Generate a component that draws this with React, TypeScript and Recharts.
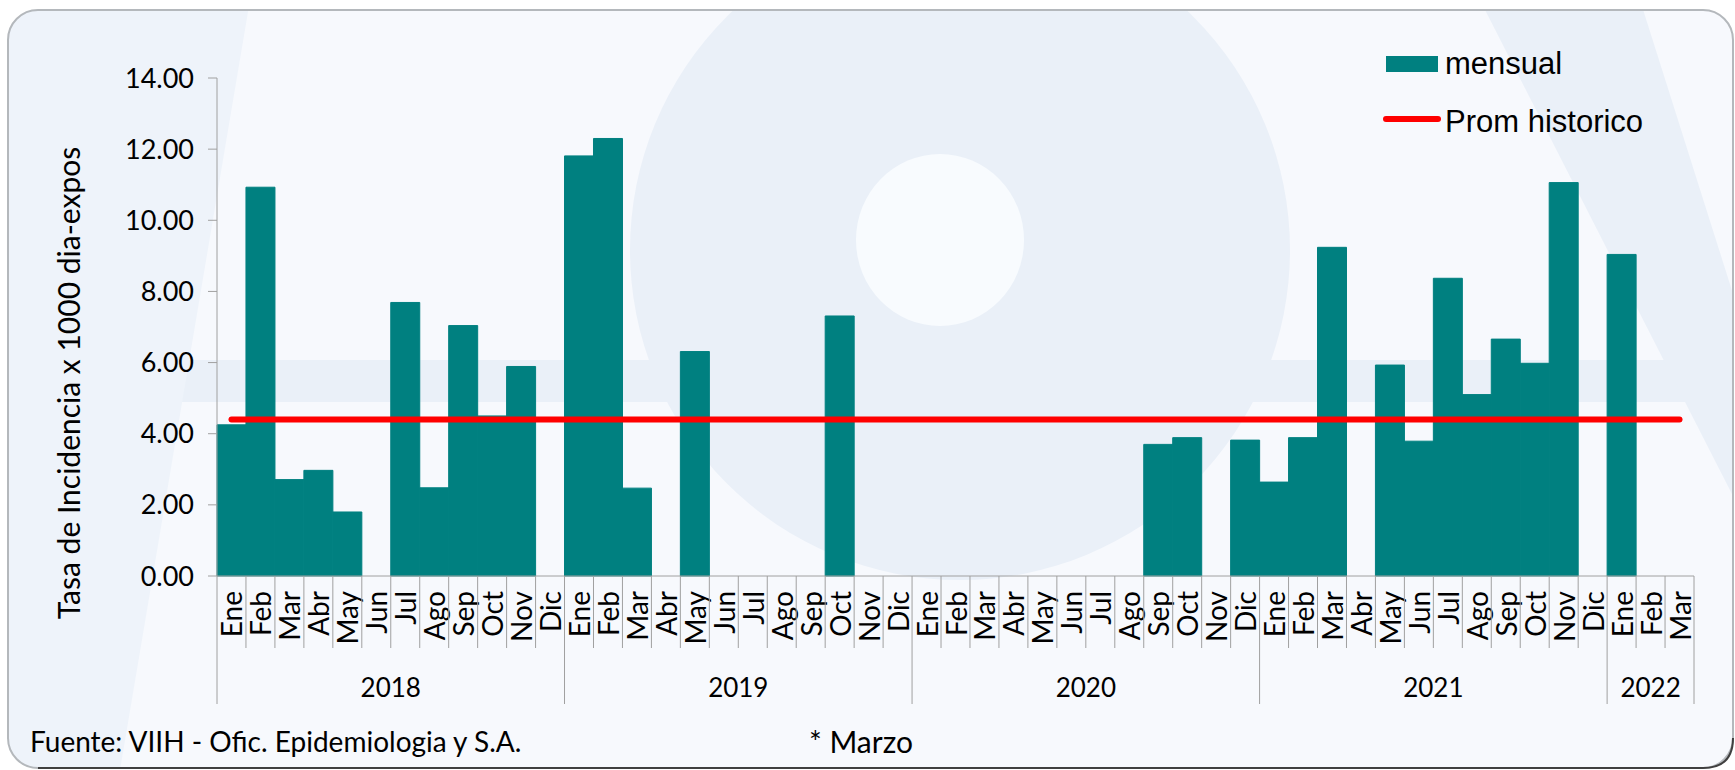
import React from 'react';
import { ComposedChart, Bar, Line, XAxis, YAxis, Legend } from 'recharts';

const monthNames = ['Ene', 'Feb', 'Mar', 'Abr', 'May', 'Jun', 'Jul', 'Ago', 'Sep', 'Oct', 'Nov', 'Dic'];
const years = ['2018', '2019', '2020', '2021', '2022'];
const monthsPerYear = [12, 12, 12, 12, 3];

const mensual2018 = [4.25, 10.93, 2.71, 2.97, 1.8, 0, 7.69, 2.48, 7.04, 4.5, 5.89, 0];
const mensual2019 = [11.81, 12.3, 2.47, 0, 6.31, 0, 0, 0, 0, 7.31, 0, 0];
const mensual2020 = [0, 0, 0, 0, 0, 0, 0, 0, 3.7, 3.89, 0, 3.82];
const mensual2021 = [2.64, 3.89, 9.24, 0, 5.93, 3.79, 8.37, 5.1, 6.66, 5.98, 11.06, 0];
const mensual2022 = [9.04, 0, 0];
const promHistorico = 4.4;
const yTicks = [0, 2, 4, 6, 8, 10, 12, 14];

const mensualByYear = [mensual2018, mensual2019, mensual2020, mensual2021, mensual2022];

type Row = { idx: number; month: string; year: string; firstOfYear: boolean; yearCount: number; mensual: number; prom: number };
const data: Row[] = [];
years.forEach((yr, yi) => {
  for (let m = 0; m < monthsPerYear[yi]; m++) {
    data.push({
      idx: data.length,
      month: monthNames[m],
      year: yr,
      firstOfYear: m === 0,
      yearCount: monthsPerYear[yi],
      mensual: mensualByYear[yi][m],
      prom: promHistorico,
    });
  }
});

const TEAL = '#008080';
const AXIS = '#a0a0a0';
const FONT = 'Lato, "Open Sans", sans-serif';

const MonthTick = (props: any) => {
  const { x, y, payload, index } = props;
  const i = typeof index === 'number' ? index : payload.value;
  const row = data[i];
  const half = payload.offset || 14.5;
  const left = x - half;
  const isLast = i === data.length - 1;
  return (
    <g>
      <line x1={left} x2={left} y1={y} y2={y + (row.firstOfYear ? 128 : 72)} stroke={AXIS} strokeWidth={1} />
      {isLast && <line x1={x + half} x2={x + half} y1={y} y2={y + 128} stroke={AXIS} strokeWidth={1} />}
      <text
        x={0}
        y={0}
        transform={`translate(${x + 11},${y + 15}) rotate(-90)`}
        textAnchor="end"
        fontFamily={FONT}
        fontSize={28}
        fill="#000"
      >
        {row.month}
      </text>
      {row.firstOfYear && (
        <text x={left + row.yearCount * half} y={y + 121} textAnchor="middle" fontFamily={FONT} fontSize={26} fill="#000">
          {row.year}
        </text>
      )}
    </g>
  );
};

const renderLegend = () => (
  <svg width={350} height={110}>
    <rect x={6} y={16} width={52} height={16} fill={TEAL} />
    <text x={65} y={34} fontFamily='"Liberation Sans", Arial, sans-serif' fontSize={31} fill="#000">mensual</text>
    <line x1={6} x2={58} y1={79} y2={79} stroke="#ff0000" strokeWidth={6} strokeLinecap="round" />
    <text x={65} y={92} fontFamily='"Liberation Sans", Arial, sans-serif' fontSize={31} fill="#000">Prom historico</text>
  </svg>
);

const Background = () => (
  <svg width={1735} height={770} style={{ position: 'absolute', left: 0, top: 0 }}>
    <defs>
      <clipPath id="frameClip">
        <rect x={8} y={10} width={1725} height={758} rx={30} ry={30} />
      </clipPath>
    </defs>
    <rect x={0} y={0} width={1735} height={770} fill="#ffffff" />
    <g clipPath="url(#frameClip)">
      <rect x={0} y={0} width={1735} height={770} fill="#f7f9fd" />
      <circle cx={960} cy={250} r={330} fill="#eaf0f8" />
      <ellipse cx={940} cy={240} rx={84} ry={86} fill="#f8fbfe" />
      <rect x={0} y={360} width={1735} height={42} fill="#eaf0f8" />
      <polygon points="0,0 250,0 120,770 0,770" fill="#eef3fa" />
      <polygon points="1480,0 1640,0 1735,300 1735,500" fill="#eaf0f8" />
    </g>
    <rect x={8} y={10} width={1725} height={758} rx={30} ry={30} fill="none" stroke="#b4b8bc" strokeWidth={2} />
    <path d="M 38 768 L 1703 768 Q 1733 768 1733 738" fill="none" stroke="#404040" strokeWidth={2} />
  </svg>
);

const Overlay = () => (
  <svg width={1735} height={770} style={{ position: 'absolute', left: 0, top: 0, pointerEvents: 'none' }}>
    <text
      x={0}
      y={0}
      transform="translate(68,383) rotate(-90)"
      textAnchor="middle"
      dominantBaseline="central"
      fontFamily={FONT}
      fontSize={30}
      fill="#000"
    >
      Tasa de Incidencia x 1000 dia-expos
    </text>
    <text x={30} y={752} fontFamily={FONT} fontSize={28} fill="#000">Fuente: VIIH - Ofic. Epidemiologia y S.A.</text>
    <text x={809} y={753} fontFamily={FONT} fontSize={30} fill="#000">* Marzo</text>
  </svg>
);

export default function App() {
  return (
    <div style={{ position: 'absolute', left: 0, top: 0, width: 1735, height: 770, overflow: 'hidden' }}>
      <Background />
      <div style={{ position: 'absolute', left: 0, top: 0 }}>
        <ComposedChart
          width={1735}
          height={770}
          data={data}
          barCategoryGap={0}
          barGap={0}
          margin={{ top: 78, right: 41, bottom: 64, left: 107 }}
        >
          <XAxis
            dataKey="idx"
            type="category"
            interval={0}
            tickLine={false}
            tickSize={0}
            tickMargin={0}
            height={130}
            axisLine={{ stroke: AXIS, strokeWidth: 1 }}
            tick={<MonthTick />}
          />
          <YAxis
            width={110}
            domain={[0, 14]}
            ticks={yTicks}
            interval={0}
            tickSize={9}
            tickMargin={14}
            tickFormatter={(v: number) => v.toFixed(2)}
            axisLine={{ stroke: AXIS, strokeWidth: 1 }}
            tickLine={{ stroke: AXIS, strokeWidth: 1 }}
            tick={{ fontFamily: FONT, fontSize: 27, fill: '#000' }}
          />
          <Bar dataKey="mensual" fill={TEAL} stroke={TEAL} strokeWidth={1} isAnimationActive={false} />
          <Line
            dataKey="prom"
            stroke="#ff0000"
            strokeWidth={6}
            strokeLinecap="round"
            dot={false}
            activeDot={false}
            isAnimationActive={false}
          />
          <Legend
            layout="vertical"
            align="center"
            verticalAlign="middle"
            content={renderLegend}
            wrapperStyle={{ top: 40, left: 1380, width: 350, height: 110 }}
          />
        </ComposedChart>
      </div>
      <Overlay />
    </div>
  );
}
